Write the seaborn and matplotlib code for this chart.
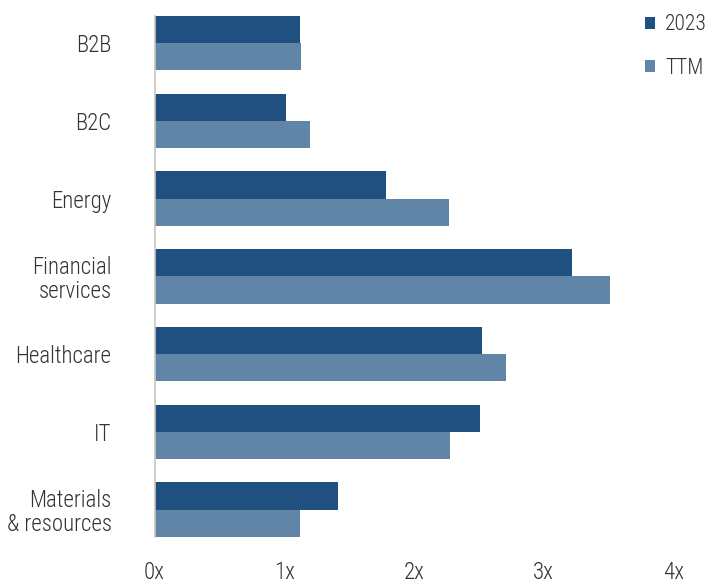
import matplotlib
matplotlib.use("Agg")
import matplotlib.pyplot as plt
import seaborn as sns
import pandas as pd

# sector labels and multiples
sectors = ["B2B", "B2C", "Energy", "Financial\nservices", "Healthcare", "IT",
           "Materials\n& resources"]
vals_2023 = [1.12, 1.01, 1.78, 3.22, 2.52, 2.51, 1.41]
vals_ttm = [1.13, 1.20, 2.27, 3.51, 2.71, 2.28, 1.12]
series = ["2023", "TTM"]
xticks = [0, 1, 2, 3, 4]
xtick_labels = ["0x", "1x", "2x", "3x", "4x"]

colors = {"2023": "#1F5080", "TTM": "#6185A7"}

df = pd.DataFrame({
    "sector": sectors * 2,
    "value": vals_2023 + vals_ttm,
    "period": [series[0]] * len(sectors) + [series[1]] * len(sectors),
})

sns.set_style("white")
plt.rcParams["font.family"] = ["Roboto Condensed", "Barlow Semi Condensed", "DejaVu Sans"]
plt.rcParams["font.weight"] = "light"

fig = plt.figure(figsize=(7.09, 5.83), dpi=100)
ax = fig.add_axes([0.218, 0.079, 0.732, 0.894])

sns.barplot(data=df, y="sector", x="value", hue="period", orient="h",
            palette=colors, width=0.7, gap=0, saturation=1, ax=ax,
            legend=True, errorbar=None, linewidth=0)

ax.set_xlim(0, 4)
ax.set_ylim(6.35, -0.35)
ax.set_xticks(xticks)
ax.set_xticklabels(xtick_labels)
ax.set_xlabel("")
ax.set_ylabel("")

for s in ["top", "right", "bottom"]:
    ax.spines[s].set_visible(False)
ax.spines["left"].set_color("#C9C5BD")
ax.spines["left"].set_linewidth(1.2)

ax.tick_params(axis="x", length=0, pad=17, labelsize=16.5, labelcolor="#333333")
ax.tick_params(axis="y", length=0, pad=31, labelsize=16.5, labelcolor="#333333")
for lab in ax.get_yticklabels():
    lab.set_linespacing(1.05)
    lab.set_horizontalalignment("right")

handles, labels = ax.get_legend_handles_labels()
ax.legend(handles, labels, loc="upper left", bbox_to_anchor=(0.908, 1.04),
          frameon=False, fontsize=15.5, handlelength=0.47, handleheight=0.47,
          handletextpad=0.45, labelspacing=1.05, labelcolor="#333333")

fig.savefig("out.png", dpi=100)
